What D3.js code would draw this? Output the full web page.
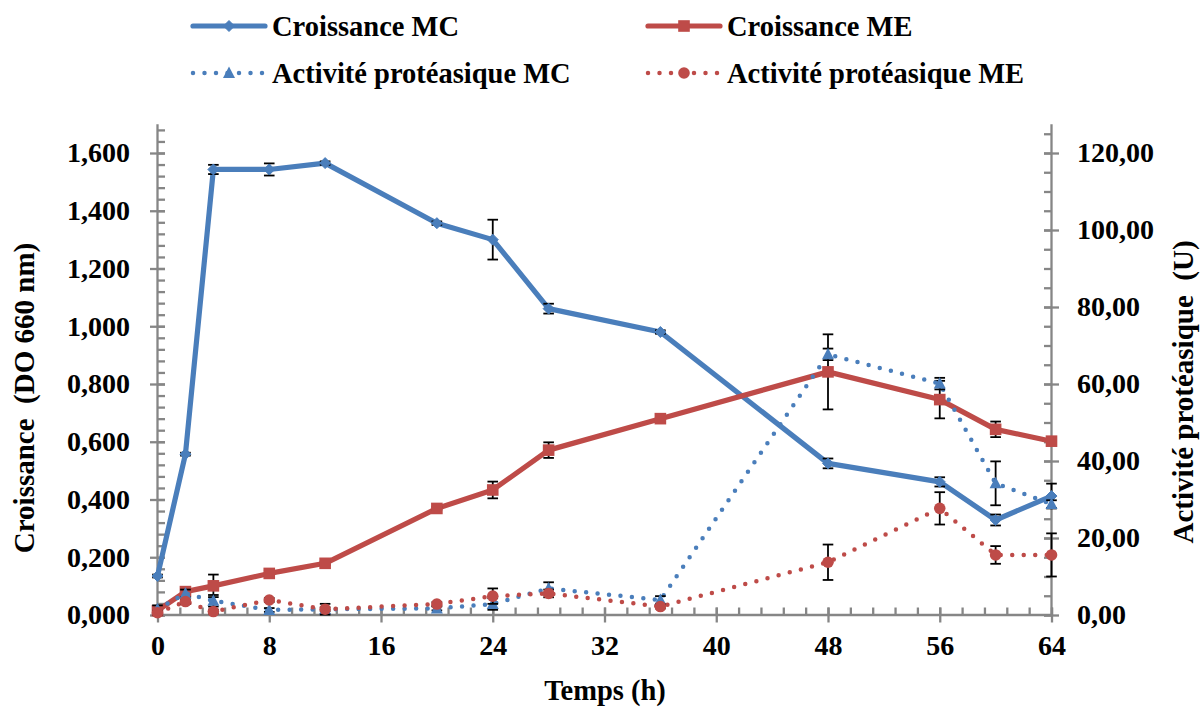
<!DOCTYPE html>
<html><head><meta charset="utf-8">
<script src="https://cdn.jsdelivr.net/npm/d3@7"></script>
<style>
html,body{margin:0;padding:0;background:#fff;}
</style></head>
<body><svg id="chart" width="1200" height="708"></svg>
<script>
// ---- data ----
const hours = [0, 2, 4, 8, 12, 20, 24, 28, 36, 48, 56, 60, 64];
const croissanceMC    = [0.135, 0.557, 1.543, 1.543, 1.565, 1.357, 1.300, 1.061, 0.980, 0.525, 0.461, 0.329, 0.412];
const croissanceMCerr = [0.005, 0.005, 0.016, 0.021, 0.006, 0.006, 0.069, 0.017, 0.006, 0.017, 0.016, 0.019, 0.043];
const croissanceME    = [0.015, 0.081, 0.101, 0.144, 0.179, 0.369, 0.433, 0.571, 0.680, 0.842, 0.746, 0.643, 0.602];
const croissanceMEerr = [0.010, 0.005, 0.039, 0.010, 0.006, 0.005, 0.029, 0.027, 0.015, 0.130, 0.065, 0.027, 0.008];
const activiteMC      = [1.5, 5.6, 3.7, 1.3, 1.5, 1.7, 2.85, 6.9, 3.9, 67.7, 60.1, 34.2, 28.8];
const activiteMCerr   = [1.0, 1.0, 1.5, 0.5, 0.5, 0.5, 1.5, 1.6, 1.0, 1.5, 1.5, 5.7, 1.0];
const activiteME      = [0.6, 3.5, 0.9, 3.9, 1.5, 2.85, 4.9, 5.6, 2.2, 13.7, 27.7, 15.6, 15.6];
const activiteMEerr   = [0.5, 0.5, 0.5, 0.5, 1.4, 0.5, 2.0, 1.0, 0.5, 4.6, 4.2, 2.3, 5.6];
const xTicks = [0, 8, 16, 24, 32, 40, 48, 56, 64];
const leftTicks = [0, 0.2, 0.4, 0.6, 0.8, 1.0, 1.2, 1.4, 1.6];
const rightTicks = [0, 20, 40, 60, 80, 100, 120];
const seriesNames = ["Croissance MC", "Croissance ME", "Activité protéasique MC", "Activité protéasique ME"];
const xTitle = "Temps (h)";
const leftTitle = "Croissance  (DO 660 nm)";
const rightTitle = "Activité protéasique  (U)";

// ---- layout ----
const BLUE = "#4A7EBB", RED = "#BE4B48", AX = "#868686";
const svg = d3.select("#chart");
const x = d3.scaleLinear().domain([0, 64]).range([157.5, 1051.5]);
const yL = d3.scaleLinear().domain([0, 1.7]).range([615, 615 - 1.7 * 288.75]);
const yR = d3.scaleLinear().domain([0, 127.5]).range([615, 615 - 1.7 * 288.75]);
const fmtL = v => d3.format(".3f")(v).replace(".", ",");
const fmtR = v => d3.format(".2f")(v).replace(".", ",");
function txt(sel){ return sel.attr("fill", "#000").style("font-family", "'Liberation Serif'").style("font-weight", "bold").style("white-space", "pre"); }

function styleAxis(g){ g.select(".domain").attr("stroke", AX).attr("stroke-width", 2.3); g.selectAll(".tick line").attr("stroke", AX).attr("stroke-width", 2.3); }
const xMinor = d3.range(0, 64.01, 1.6);
const lMinor = d3.range(0, 1.69, 0.04);
const rMinor = d3.range(0, 126, 5);
const gx = svg.append("g").attr("transform", "translate(0,615)")
  .call(d3.axisBottom(x).tickValues(xMinor).tickSize(-7.5).tickFormat(""));
styleAxis(gx);
const gxM = svg.append("g").attr("transform", "translate(0,622.5)")
  .call(d3.axisBottom(x).tickValues(xTicks).tickSize(-15).tickFormat(d3.format("d")));
gxM.select(".domain").remove();
styleAxis(gxM);
txt(gxM.selectAll("text")).attr("font-size", 28).attr("dy", "0.71em").attr("y", 13);

const gl = svg.append("g").attr("transform", "translate(157.5,0)")
  .call(d3.axisLeft(yL).tickValues(lMinor).tickSize(-7.5).tickFormat(""));
styleAxis(gl);
const glM = svg.append("g").attr("transform", "translate(150,0)")
  .call(d3.axisLeft(yL).tickValues(leftTicks).tickSize(-15).tickFormat(fmtL));
glM.select(".domain").remove(); styleAxis(glM);
txt(glM.selectAll("text")).attr("font-size", 28).attr("x", -20);

const gr = svg.append("g").attr("transform", "translate(1051.5,0)")
  .call(d3.axisRight(yR).tickValues(rMinor).tickSize(-7.5).tickFormat(""));
styleAxis(gr);
const grM = svg.append("g").attr("transform", "translate(1059,0)")
  .call(d3.axisRight(yR).tickValues(rightTicks).tickSize(-15).tickFormat(fmtR));
grM.select(".domain").remove(); styleAxis(grM);
txt(grM.selectAll("text")).attr("font-size", 28).attr("x", 18);
gl.select(".domain").attr("d", `M0,${yL(0)}V${yL.range()[1]}`);
gr.select(".domain").attr("d", `M0,${yR(0)}V${yR.range()[1]}`);
gx.select(".domain").attr("d", `M${x(0)},0H${x(64)}`);

// titles
txt(svg.append("text")).attr("x", 605).attr("y", 700).attr("text-anchor", "middle").attr("font-size", 28.5).text(xTitle);
txt(svg.append("text")).attr("transform", "translate(34,398) rotate(-90)").attr("text-anchor", "middle").attr("font-size", 29).text(leftTitle);
txt(svg.append("text")).attr("transform", "translate(1193,392) rotate(-90)").attr("text-anchor", "middle").attr("font-size", 29).text(rightTitle);

// markers
const mk = {
  diamond: (g, cx, cy, c) => g.append("path").attr("d", `M${cx},${cy-5.5}L${cx+5.5},${cy}L${cx},${cy+5.5}L${cx-5.5},${cy}Z`).attr("fill", c).attr("stroke", c).attr("stroke-width", 1),
  square: (g, cx, cy, c) => g.append("rect").attr("x", cx-5.8).attr("y", cy-5.8).attr("width", 11.6).attr("height", 11.6).attr("fill", c),
  triangle: (g, cx, cy, c) => g.append("path").attr("d", `M${cx},${cy-6.5}L${cx+6},${cy+5}L${cx-6},${cy+5}Z`).attr("fill", c),
  circle: (g, cx, cy, c) => g.append("circle").attr("cx", cx).attr("cy", cy).attr("r", 5.8).attr("fill", c)
};

const series = [
  {name: seriesNames[0], vals: croissanceMC, err: croissanceMCerr, y: yL, color: BLUE, dotted: false, marker: "diamond"},
  {name: seriesNames[1], vals: croissanceME, err: croissanceMEerr, y: yL, color: RED, dotted: false, marker: "square"},
  {name: seriesNames[2], vals: activiteMC, err: activiteMCerr, y: yR, color: BLUE, dotted: true, marker: "triangle"},
  {name: seriesNames[3], vals: activiteME, err: activiteMEerr, y: yR, color: RED, dotted: true, marker: "circle"}
];

series.forEach(s => {
  const g = svg.append("g");
  const pts = hours.map((h, i) => [x(h), s.y(s.vals[i])]);
  g.append("path").attr("d", d3.line()(pts)).attr("fill", "none").attr("stroke", s.color)
    .attr("stroke-width", s.dotted ? 4.5 : 5.2).attr("stroke-linejoin", "round")
    .attr("stroke-linecap", "round").attr("stroke-dasharray", s.dotted ? "0 11.5" : null);
  hours.forEach((h, i) => {
    const cx = x(h), y1 = s.y(s.vals[i] + s.err[i]), y2 = s.y(s.vals[i] - s.err[i]);
    g.append("line").attr("x1", cx).attr("x2", cx).attr("y1", y1).attr("y2", y2).attr("stroke", "#000").attr("stroke-width", 1.8);
    [y1, y2].forEach(yy => g.append("line").attr("x1", cx - 5.3).attr("x2", cx + 5.3).attr("y1", yy).attr("y2", yy).attr("stroke", "#000").attr("stroke-width", 1.8));
  });
  pts.forEach(p => mk[s.marker](g, p[0], p[1], s.color));
});

// legend
const legendPos = [[193, 26], [648, 26], [193, 73], [648, 73]];
series.forEach((s, i) => {
  const [lx, ly] = legendPos[i];
  const g = svg.append("g");
  g.append("line").attr("x1", lx).attr("x2", lx + 72).attr("y1", ly).attr("y2", ly).attr("stroke", s.color)
    .attr("stroke-width", s.dotted ? 4.5 : 5.2).attr("stroke-linecap", "round").attr("stroke-dasharray", s.dotted ? "0 11.5" : null);
  mk[s.marker](g, lx + 36, ly, s.color);
  txt(g.append("text")).attr("x", lx + 79).attr("y", ly).attr("dy", "0.35em").attr("font-size", 28.5).text(s.name);
});
</script></body></html>
